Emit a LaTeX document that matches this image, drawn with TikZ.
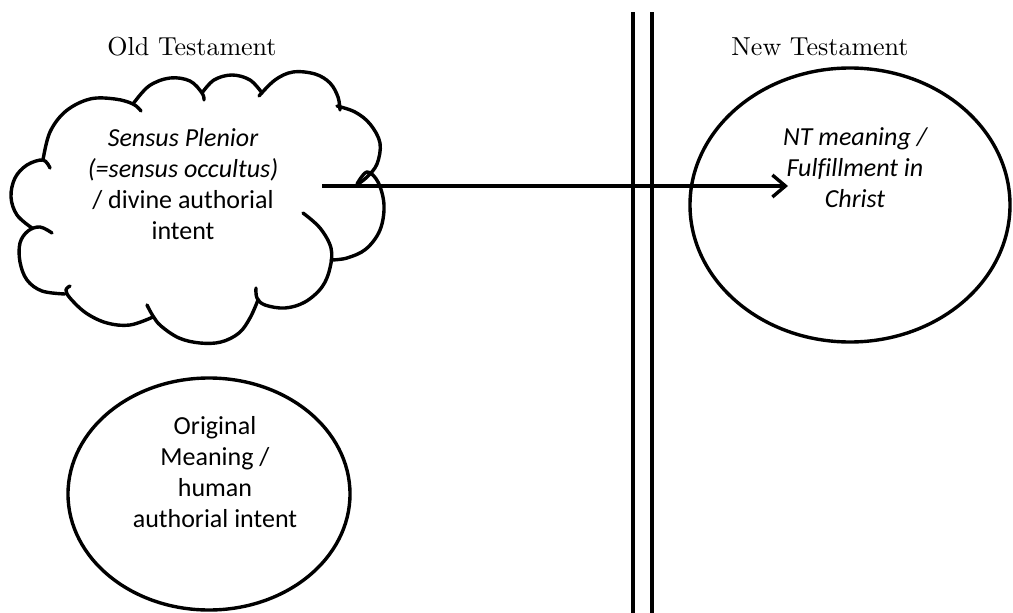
\documentclass[tikz,border=0pt]{standalone}
\usepackage{fontspec}
\newfontfamily\carlito{Carlito}[Ligatures=NoCommon]
\newfontfamily\lmten{lmroman10-regular.otf}
\usetikzlibrary{shapes.geometric,arrows.meta}
\begin{document}
\begin{tikzpicture}[x=1pt,y=-1pt,
  outline/.style={line width=3.4pt,line cap=round,line join=round},
  oval/.style={draw,outline,ellipse,inner sep=0pt},
  title/.style={font=\lmten\fontsize{26}{30}\selectfont,anchor=base,inner sep=0pt},
  body/.style={font=\carlito\fontsize{26}{31}\selectfont,align=center,anchor=base,inner sep=0pt},
  bump/.style={outline,smooth,tension=0.6}]
\useasboundingbox (0,0) rectangle (1013,613);
% titles
\node[title] (ot) at (192,55) {Old Testament};
\node[title] (nt) at (820,55) {New Testament};
% divider
\coordinate (d1t) at (633,12); \coordinate (d1b) at (633,613);
\coordinate (d2t) at (652,12); \coordinate (d2b) at (652,613);
\draw[outline,line cap=butt] (d1t) -- (d1b);
\draw[outline,line cap=butt] (d2t) -- (d2b);
% cloud
\draw[bump] plot coordinates {(32,228) (17,215) (11,197) (15,178) (27,165) (43,160) (50,168)};
\draw[bump] plot coordinates {(43,160) (50,132) (66,111) (90,99) (115,99) (133,104) (141,111)};
\draw[bump] plot coordinates {(133,104) (149,86) (170,78) (190,81) (202,93) (204,100)};
\draw[bump] plot coordinates {(202,93) (214,80) (232,75) (250,80) (262,93)};
\draw[bump] plot coordinates {(259,96) (275,80) (293,72) (315,74) (330,83) (338,97) (340,110)};
\draw[bump] plot coordinates {(337,106) (355,112) (370,124) (380,143) (377,164) (367,177) (358,184)};
\draw[bump] plot coordinates {(357,184) (367,172) (378,182) (384,205) (380,230) (366,249) (347,258) (331,260)};
\draw[bump] plot coordinates {(303,213) (320,228) (331,248) (330,268) (322,287) (305,302) (285,308) (265,305) (257,298) (256,288)};
\draw[bump] plot coordinates {(258,300) (250,318) (239,333) (221,342) (200,343) (179,338) (161,326) (153,316) (147,305)};
\draw[bump] plot coordinates {(153,317) (130,325) (107,323) (86,313) (70,298) (66,290) (70,286)};
\draw[bump] plot coordinates {(65,294) (42,291) (27,280) (20,262) (20,243) (28,231) (40,227) (52,233)};
\node[body] (sp) at (183,239) {\itshape Sensus Plenior\\\itshape (=sensus occultus)\\/ divine authorial\\intent};
% NT ellipse
\node[oval,minimum width=320pt,minimum height=274pt] (ntoval) at (850,205) {};
\node[body] (ntm) at (855,207) {\itshape NT meaning /\\\itshape Fulfillment in\\\itshape Christ};
% original meaning ellipse
\node[oval,minimum width=282pt,minimum height=232pt] (omoval) at (209,494) {};
\node[body] (om) at (215,527) {Original\\Meaning /\\human\\authorial intent};
% arrow
\coordinate (as) at (322,186);
\coordinate (ae) at (788,186);
\draw[line width=3.4pt,-{Straight Barb[length=13pt,width=22pt]}] (as) -- (ae);
\end{tikzpicture}
\end{document}
